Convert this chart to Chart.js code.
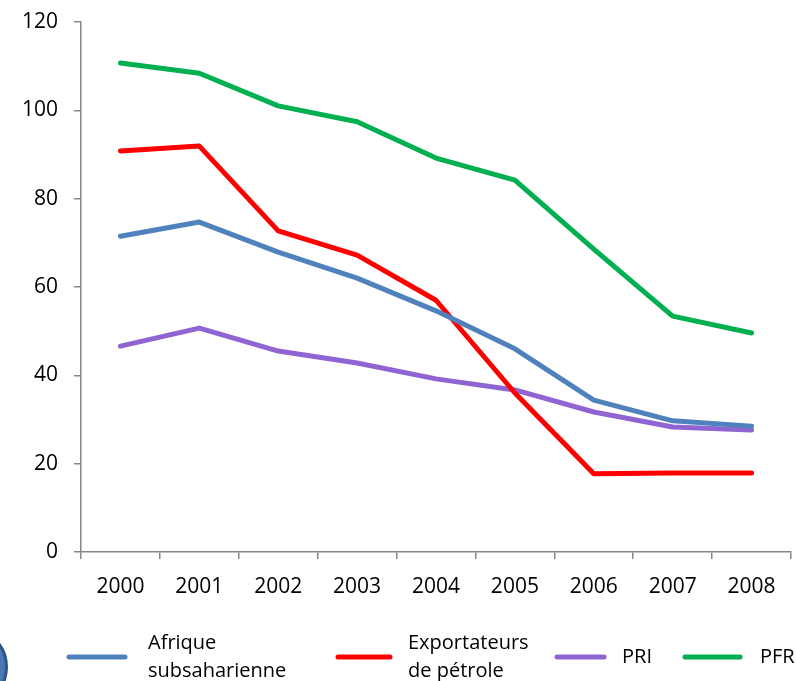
<!DOCTYPE html>
<html>
<head>
<meta charset="utf-8">
<script src="https://cdn.jsdelivr.net/npm/chart.js@4/dist/chart.umd.min.js"></script>
<style>
  html, body { margin: 0; padding: 0; background: #fff; overflow: hidden; }
  #wrap { position: relative; width: 796px; height: 681px; }
  #badge {
    position: absolute; left: -42px; top: 634px; width: 44px; height: 60px;
    border-radius: 50%; border: 3px solid #2f5585; background: #4a78b4;
  }
</style>
</head>
<body>
<div id="wrap">
  <canvas id="chart" width="796" height="681"></canvas>
  <div id="badge"></div>
</div>
<script>
// Years on the x axis
const years = ['2000', '2001', '2002', '2003', '2004', '2005', '2006', '2007', '2008'];

// Series values
const afriqueData = [71.5, 74.7, 67.9, 62.0, 54.6, 46.0, 34.4, 29.7, 28.5];
const exportateursData = [90.8, 91.9, 72.7, 67.2, 57.0, 36.0, 17.7, 17.9, 17.9];
const priData = [46.6, 50.7, 45.5, 42.8, 39.2, 36.7, 31.7, 28.3, 27.6];
const pfrData = [110.7, 108.4, 101.0, 97.4, 89.2, 84.2, 68.6, 53.4, 49.6];

// Legend labels (two lines where the picture wraps)
const legendLabels = [['Afrique', 'subsaharienne'], ['Exportateurs', 'de pétrole'], ['PRI'], ['PFR']];

const FONT = '"Open Sans", sans-serif';
const AXIS = '#868686';

function makeSet(label, data, color) {
  return {
    label: label,
    data: data,
    borderColor: color,
    backgroundColor: color,
    borderWidth: 5,
    pointRadius: 0,
    fill: false,
    tension: 0,
    borderCapStyle: 'round',
    borderJoinStyle: 'round'
  };
}

// Legend drawn under the chart, lines then wrapped text
const bottomLegend = {
  id: 'bottomLegend',
  afterDraw(chart) {
    const ctx = chart.ctx;
    const spots = [[69, 125, 148], [338, 390, 408], [557, 604, 622], [685, 740, 760]];
    const lineY = 657;
    ctx.save();
    ctx.font = '20px ' + FONT;
    ctx.textBaseline = 'middle';
    ctx.fillStyle = '#000';
    chart.data.datasets.forEach((ds, i) => {
      const s = spots[i];
      ctx.strokeStyle = ds.borderColor;
      ctx.lineWidth = 5;
      ctx.lineCap = 'round';
      ctx.beginPath();
      ctx.moveTo(s[0], lineY);
      ctx.lineTo(s[1], lineY);
      ctx.stroke();
      const lines = legendLabels[i];
      const startY = lines.length === 1 ? lineY : lineY - 14;
      lines.forEach((t, j) => ctx.fillText(t, s[2], startY + j * 28));
    });
    ctx.restore();
  }
};

const ctx = document.getElementById('chart').getContext('2d');
new Chart(ctx, {
  type: 'line',
  data: {
    labels: years,
    datasets: [
      makeSet('Afrique subsaharienne', afriqueData, '#4f81bd'),
      makeSet('Exportateurs de pétrole', exportateursData, '#ff0000'),
      makeSet('PRI', priData, '#9064d2'),
      makeSet('PFR', pfrData, '#00b050')
    ]
  },
  options: {
    responsive: false,
    animation: false,
    layout: { padding: { top: 22, right: 5, bottom: 0, left: 0 } },
    plugins: {
      legend: { display: false },
      tooltip: { enabled: false }
    },
    scales: {
      x: {
        offset: true,
        grid: { display: true, drawOnChartArea: false, drawTicks: true, tickLength: 7, color: AXIS, lineWidth: 1.5, offset: true },
        border: { color: AXIS, width: 1.5 },
        ticks: { color: '#000', font: { family: FONT, size: 21 }, padding: 15, maxRotation: 0 },
        afterFit(scale) { scale.height = 129; scale.paddingLeft = 0; scale.paddingRight = 0; }
      },
      y: {
        min: 0,
        max: 120,
        ticks: { stepSize: 20, color: '#000', font: { family: FONT, size: 21 }, padding: 16 },
        grid: { display: true, drawOnChartArea: false, drawTicks: true, tickLength: 7, color: AXIS, lineWidth: 1.5 },
        border: { color: AXIS, width: 1.5 },
        afterFit(scale) { scale.width = 81; scale.paddingTop = 0; scale.paddingBottom = 0; }
      }
    }
  },
  plugins: [bottomLegend]
});
</script>
</body>
</html>
